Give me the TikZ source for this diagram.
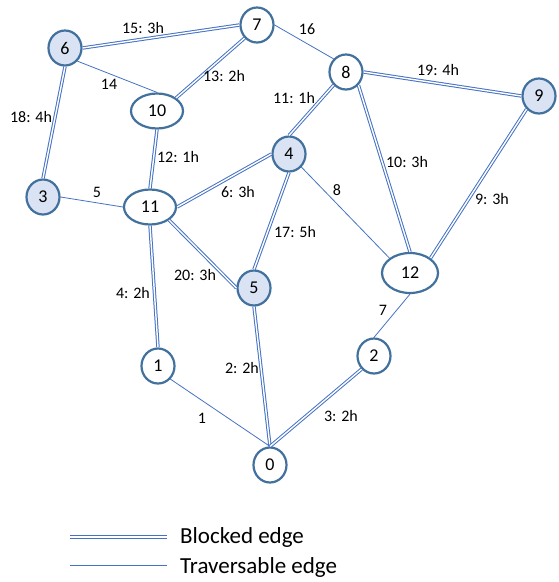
\documentclass[tikz,border=0pt]{standalone}
\usepackage{fontspec}
\setmainfont{Carlito}
\usetikzlibrary{shapes.geometric}
\definecolor{edgeblue}{HTML}{4472C4}
\definecolor{rimblue}{HTML}{41719C}
\definecolor{fillblue}{HTML}{DAE3F3}

\tikzset{%
  vertex/.style={
    ellipse,
    draw=rimblue,
    line width=2.2pt,
    fill=white,
    minimum width=33pt,
    minimum height=35pt,
    inner sep=0pt,
    font=\fontsize{18}{20}\selectfont
  },
  vertex start/.style={
    vertex,
    fill=fillblue
  },
  vertex wide/.style={
    vertex,
    minimum width=52pt
  },
  blocked/.style={
    draw=edgeblue,
    line width=1pt,
    double=white,
    double distance=1.4pt
  },
  traversable/.style={
    draw=edgeblue,
    line width=0.8pt
  },
  weight/.style={
    inner sep=1pt,
    font=\fontsize{16}{18}\selectfont
  },
  legend text/.style={
    anchor=west,
    inner sep=0pt,
    font=\fontsize{23}{26}\selectfont
  },
}

\begin{document}
\begin{tikzpicture}[x=1pt,y=-1pt]
\useasboundingbox (0,0) rectangle (558,582);
\node[vertex] (v0) at (270,465) {0};
\node[vertex] (v1) at (158,366) {1};
\node[vertex] (v2) at (374,356) {2};
\node[vertex start] (v3) at (43,197) {3};
\node[vertex start] (v4) at (289,154) {4};
\node[vertex start] (v5) at (254,288) {5};
\node[vertex start] (v6) at (65,48) {6};
\node[vertex] (v7) at (257,25) {7};
\node[vertex] (v8) at (346,72) {8};
\node[vertex start] (v9) at (539,96) {9};
\node[vertex wide] (v10) at (157,111) {10};
\node[vertex wide] (v11) at (150,207) {11};
\node[vertex wide, minimum width=56pt, minimum height=40pt] (v12) at (410,273) {12};

\draw[blocked] (v6.east) -- (v7.west);
\draw[blocked] (v7.south west) -- (v10.north east);
\draw[blocked] (v6.south) -- (v3.north);
\draw[blocked] (v10.south) -- (v11.north);
\draw[blocked] (v11.east) -- (v4.west);
\draw[blocked] (v8.south west) -- (v4.north);
\draw[blocked] (v8.east) -- (v9.west);
\draw[blocked] (v8.south east) -- (v12.north);
\draw[blocked] (v9.south west) -- (v12.north east);
\draw[blocked] (v4.south) -- (v5.north);
\draw[blocked] (v11.south east) -- (v5.west);
\draw[blocked] (v11.south) -- (v1.north);
\draw[blocked] (v5.south) -- (v0.north);
\draw[blocked] (v2.south west) -- (v0.north);
\draw[traversable] (v6.south east) -- (v10.north);
\draw[traversable] (v7.east) -- (v8.north west);
\draw[traversable] (v3.east) -- (v11.west);
\draw[traversable] (v4.south east) -- (v12.north west);
\draw[traversable] (v12.south) -- (v2.north);
\draw[traversable] (v1.south east) -- (v0.north);

\node[weight] (w15) at (143,28) {15: 3h};
\node[weight] (w14) at (109,84) {14};
\node[weight] (w13) at (224,76) {13: 2h};
\node[weight] (w18) at (31,117) {18: 4h};
\node[weight] (w12) at (178,157) {12: 1h};
\node[weight] (w5) at (97,192) {5};
\node[weight] (w6) at (238,192) {6: 3h};
\node[weight] (w16) at (307,29) {16};
\node[weight] (w19) at (438,70) {19: 4h};
\node[weight] (w11) at (294,98) {11: 1h};
\node[weight] (w10) at (407,162) {10: 3h};
\node[weight] (w8) at (337,190) {8};
\node[weight] (w9) at (492,199) {9: 3h};
\node[weight] (w17) at (295,232) {17: 5h};
\node[weight] (w20) at (195,275) {20: 3h};
\node[weight] (w4) at (133,293) {4: 2h};
\node[weight] (w2) at (242,368) {2: 2h};
\node[weight] (w1) at (202,418) {1};
\node[weight] (w7) at (383,310) {7};
\node[weight] (w3) at (341,416) {3: 2h};

\coordinate (kb1) at (70,537);
\coordinate (kb2) at (167,537);
\coordinate (kt1) at (70,565);
\coordinate (kt2) at (167,565);
\draw[blocked] (kb1) -- (kb2);
\draw[traversable] (kt1) -- (kt2);
\node[legend text] (kb) at (180,537) {Blocked edge};
\node[legend text] (kt) at (180,567) {Traversable edge};
\end{tikzpicture}
\end{document}
